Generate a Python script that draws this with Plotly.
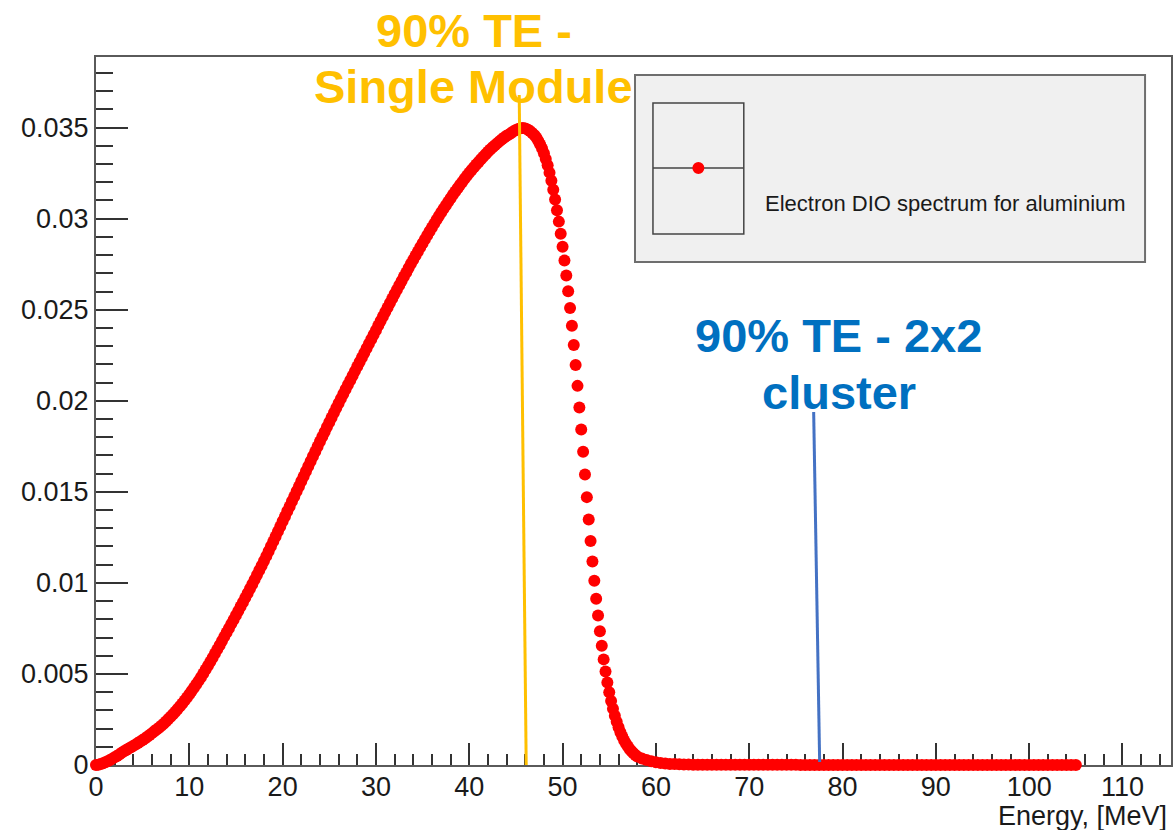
import numpy as np
import plotly.graph_objects as go

# ---------------- data ----------------
# DIO spectrum, values in units of 1e-5
energy_rise = [
    0.0, 0.25, 0.5, 0.75, 1.0, 1.25, 1.5, 1.75, 2.0, 2.25, 2.5, 2.75, 3.0, 3.25, 3.5, 3.75, 4.0, 4.25, 4.5, 4.75,
    5.0, 5.25, 5.5, 5.75, 6.0, 6.25, 6.5, 6.75, 7.0, 7.25, 7.5, 7.75, 8.0, 8.25, 8.5, 8.75, 9.0, 9.25, 9.5, 9.75,
    10.0, 10.25, 10.5, 10.75, 11.0, 11.25, 11.5, 11.75, 12.0, 12.25, 12.5, 12.75, 13.0, 13.25, 13.5, 13.75, 14.0, 14.25, 14.5, 14.75,
    15.0, 15.25, 15.5, 15.75, 16.0, 16.25, 16.5, 16.75, 17.0, 17.25, 17.5, 17.75, 18.0, 18.25, 18.5, 18.75, 19.0, 19.25, 19.5, 19.75,
    20.0, 20.25, 20.5, 20.75, 21.0, 21.25, 21.5, 21.75, 22.0, 22.25, 22.5, 22.75, 23.0, 23.25, 23.5, 23.75, 24.0, 24.25, 24.5, 24.75,
    25.0, 25.25, 25.5, 25.75, 26.0, 26.25, 26.5, 26.75, 27.0, 27.25, 27.5, 27.75, 28.0, 28.25, 28.5, 28.75, 29.0, 29.25, 29.5, 29.75,
    30.0, 30.25, 30.5, 30.75, 31.0, 31.25, 31.5, 31.75, 32.0, 32.25, 32.5, 32.75, 33.0, 33.25, 33.5, 33.75, 34.0, 34.25, 34.5, 34.75,
    35.0, 35.25, 35.5, 35.75, 36.0, 36.25, 36.5, 36.75, 37.0, 37.25, 37.5, 37.75, 38.0, 38.25, 38.5, 38.75, 39.0, 39.25, 39.5, 39.75,
    40.0, 40.25, 40.5, 40.75, 41.0, 41.25, 41.5, 41.75, 42.0, 42.25, 42.5, 42.75, 43.0, 43.25, 43.5, 43.75, 44.0, 44.25, 44.5, 44.75,
    45.0, 45.25, 45.5, 45.75, 46.0, 46.25, 46.5, 46.75,
]
dio_rise = [
    0, 2, 5, 10, 15, 21, 28, 35, 42, 50, 58, 67, 75, 82, 90, 97, 105, 113, 121, 129,
    137, 146, 155, 165, 175, 185, 195, 205, 215, 227, 239, 252, 265, 279, 293, 307, 322, 338, 354, 371,
    388, 406, 424, 443, 462, 482, 503, 524, 545, 567, 589, 612, 635, 658, 681, 705, 728, 751, 775, 798,
    822, 846, 870, 894, 918, 943, 968, 993, 1018, 1043, 1069, 1094, 1120, 1147, 1174, 1201, 1228, 1255, 1283, 1310,
    1338, 1365, 1393, 1420, 1448, 1475, 1503, 1530, 1558, 1585, 1613, 1640, 1668, 1695, 1722, 1749, 1776, 1803, 1829, 1856,
    1882, 1908, 1934, 1960, 1986, 2012, 2037, 2063, 2088, 2113, 2138, 2163, 2188, 2213, 2238, 2263, 2288, 2313, 2338, 2363,
    2388, 2413, 2438, 2463, 2488, 2513, 2537, 2562, 2586, 2610, 2634, 2658, 2682, 2705, 2729, 2752, 2775, 2798, 2820, 2843,
    2865, 2887, 2909, 2931, 2952, 2973, 2994, 3015, 3035, 3055, 3074, 3093, 3112, 3131, 3149, 3167, 3185, 3202, 3219, 3236,
    3252, 3268, 3283, 3298, 3312, 3326, 3340, 3354, 3368, 3380, 3392, 3404, 3415, 3426, 3436, 3446, 3455, 3463, 3471, 3480,
    3487, 3493, 3497, 3498, 3496, 3490, 3482, 3471,
]
energy_fall = [
    47.0, 47.2, 47.4, 47.6, 47.8, 48.0, 48.2, 48.4, 48.6, 48.8,
    49.0, 49.2, 49.4, 49.6, 49.8, 50.0, 50.2, 50.4, 50.6, 50.8,
    51.0, 51.2, 51.4, 51.6, 51.8, 52.0, 52.2, 52.4, 52.6, 52.8,
    53.0, 53.2, 53.4, 53.6, 53.8, 54.0, 54.2, 54.4, 54.6, 54.8,
    55.0, 55.2, 55.4, 55.6, 55.8, 56.0, 56.2, 56.4, 56.6, 56.8,
    57.0, 57.2, 57.4, 57.6, 57.8, 58.0,
]
dio_fall = [
    3458, 3444, 3427, 3408, 3385, 3359, 3328, 3293, 3253, 3208,
    3159, 3105, 3047, 2984, 2917, 2846, 2770, 2688, 2601, 2509,
    2412, 2306, 2196, 2082, 1963, 1842, 1720, 1595, 1471, 1348,
    1230, 1118, 1012, 913, 821, 735, 655, 580, 513, 453,
    400, 352, 309, 271, 237, 207, 180, 156, 135, 117,
    101, 87, 75, 64, 55, 47,
]
energy_tail = [
    58.5, 59.0, 59.5, 60.0, 60.5, 61.0, 61.5, 62.0, 62.5, 63.0, 63.5, 64.0, 64.5, 65.0, 65.5,
    66.0, 66.5, 67.0, 67.5, 68.0, 68.5, 69.0, 69.5, 70.0, 70.5, 71.0, 71.5, 72.0, 72.5, 73.0, 73.5, 74.0, 74.5, 75.0,
    75.5, 76.0, 76.5, 77.0, 77.5, 78.0, 78.5, 79.0, 79.5, 80.0, 80.5, 81.0, 81.5, 82.0, 82.5, 83.0, 83.5, 84.0, 84.5, 85.0,
    85.5, 86.0, 86.5, 87.0, 87.5, 88.0, 88.5, 89.0, 89.5, 90.0, 90.5, 91.0, 91.5, 92.0, 92.5, 93.0, 93.5, 94.0, 94.5, 95.0,
    95.5, 96.0, 96.5, 97.0, 97.5, 98.0, 98.5, 99.0, 99.5, 100.0, 100.5, 101.0, 101.5, 102.0, 102.5, 103.0, 103.5, 104.0, 104.5, 105.0,
]
dio_tail = [
    36, 27, 20, 15, 11, 8, 6, 5, 4, 3, 3, 2, 2, 2, 1,
    1, 1, 1, 1, 1, 1, 1, 1, 1, 1, 1, 1, 1, 1, 1, 1, 1, 1, 1,
    0, 0, 0, 0, 0, 0, 0, 0, 0, 0, 0, 0, 0, 0, 0, 0, 0, 0, 0, 0,
    0, 0, 0, 0, 0, 0, 0, 0, 0, 0, 0, 0, 0, 0, 0, 0, 0, 0, 0, 0,
    0, 0, 0, 0, 0, 0, 0, 0, 0, 0, 0, 0, 0, 0, 0, 0, 0, 0, 0, 0,
]
DIO_UNIT = 1e-5

series_name = "Electron DIO spectrum for aluminium"
x_title = "Energy, [MeV]"
label_single = ["90% TE -", "Single Module"]
label_cluster = ["90% TE - 2x2", "cluster"]

# ---------------- figure ----------------
energy = np.array(energy_rise + energy_fall + energy_tail)
dio = np.array(dio_rise + dio_fall + dio_tail) * DIO_UNIT

W, H = 1175, 830
L, R, T, B = 96, 1173, 57, 765
FONT = "Liberation Sans, Arial, Helvetica, sans-serif"


def px(xp):
    return (xp - L) / (R - L)


def py(yp):
    return (B - yp) / (B - T)


fig = go.Figure()
fig.add_trace(go.Scatter(
    x=energy, y=dio, mode="markers",
    marker=dict(color="#ff0000", size=12, line=dict(width=0)),
    cliponaxis=False, showlegend=False, name=series_name,
))

axis_common = dict(
    showgrid=False, zeroline=False, showline=True, linecolor="#5a5a5a", linewidth=2,
    mirror=True, ticks="inside", tickcolor="#333333", tickwidth=2,
    tickfont=dict(family=FONT, size=27, color="#1a1a1a"), layer="below traces",
)

fig.update_layout(
    width=W, height=H,
    margin=dict(l=L, r=W - R, t=T, b=H - B, pad=0),
    paper_bgcolor="white", plot_bgcolor="white",
    xaxis=dict(range=[0, 115.2], tickmode="linear", tick0=0, dtick=10, ticklen=22,
               ticklabelstandoff=-3,
               minor=dict(dtick=2, tick0=0, ticks="inside", ticklen=11, tickcolor="#333333",
                          tickwidth=2, showgrid=False),
               **axis_common),
    yaxis=dict(range=[0, 0.03888], tickmode="linear", tick0=0, dtick=0.005, ticklen=32,
               minor=dict(dtick=0.001, tick0=0, ticks="inside", ticklen=17, tickcolor="#333333",
                          tickwidth=2, showgrid=False),
               **axis_common),
)

shapes = []
# legend box
shapes.append(dict(type="rect", xref="paper", yref="paper", x0=px(636), x1=px(1147), y0=py(262), y1=py(75),
                   fillcolor="#f0f0f0", line=dict(color="#6e6e6e", width=2), layer="above"))
shapes.append(dict(type="rect", xref="paper", yref="paper", x0=px(654), x1=px(745), y0=py(234), y1=py(103),
                   fillcolor="rgba(0,0,0,0)", line=dict(color="#444444", width=1.5), layer="above"))
shapes.append(dict(type="line", xref="paper", yref="paper", x0=px(654), x1=px(745), y0=py(168), y1=py(168),
                   line=dict(color="#444444", width=1.5), layer="above"))
shapes.append(dict(type="circle", xref="paper", yref="paper", x0=px(693.5), x1=px(705.5), y0=py(174), y1=py(162),
                   fillcolor="#ff0000", line=dict(color="#ff0000", width=0), layer="above"))
# threshold lines
shapes.append(dict(type="line", xref="paper", yref="paper", x0=px(520), x1=px(527), y0=py(95), y1=py(765),
                   line=dict(color="#FFC000", width=3), layer="above"))
shapes.append(dict(type="line", xref="paper", yref="paper", x0=px(815), x1=px(821), y0=py(412), y1=py(762),
                   line=dict(color="#4472C4", width=3), layer="above"))
fig.update_layout(shapes=shapes)

annotations = []


def ann(text, xc, yc, size, color, bold=False, xanchor="center"):
    t = f"<b>{text}</b>" if bold else text
    annotations.append(dict(text=t, xref="paper", yref="paper", x=px(xc), y=py(yc),
                            xanchor=xanchor, yanchor="middle", showarrow=False,
                            font=dict(family=FONT, size=size, color=color)))


ann(label_single[0], 475, 30.5, 47, "#FFC000", bold=True)
ann(label_single[1], 474, 86.5, 47, "#FFC000", bold=True)
ann(label_cluster[0], 840, 335, 47, "#0070C0", bold=True)
ann(label_cluster[1], 840, 392, 47, "#0070C0", bold=True)
ann(series_name, 764, 203.5, 22, "#1a1a1a", xanchor="left")
ann(x_title, 1171, 816, 27, "#1a1a1a", xanchor="right")
fig.update_layout(annotations=annotations)

fig.write_html("out.html")
